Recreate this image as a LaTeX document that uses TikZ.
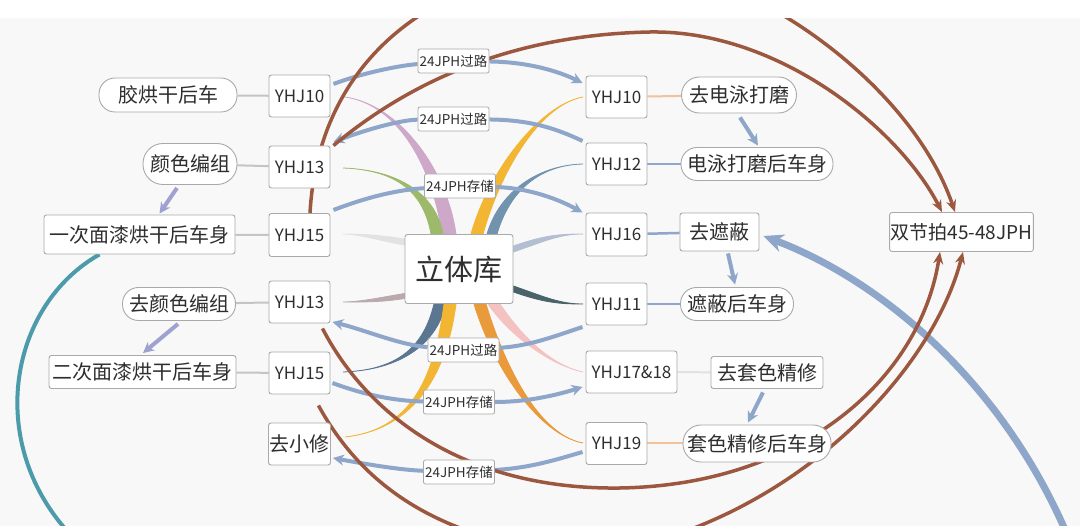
\documentclass[tikz,border=0pt]{standalone}
\usepackage{fontspec}
\setmainfont{Noto Sans CJK SC}
\usetikzlibrary{calc,arrows.meta}
\pgfdeclarelayer{base}\pgfdeclarelayer{links}\pgfdeclarelayer{topband}
\pgfsetlayers{base,links,main,topband}
\definecolor{bgc}{HTML}{F8F8F8}
\definecolor{bd}{HTML}{A9A9A9}
\definecolor{tx}{HTML}{2E2E2E}
\definecolor{brn}{HTML}{9C573F}
\definecolor{blu}{HTML}{8DA6C9}
\definecolor{pur}{HTML}{9FA2D1}
\definecolor{tea}{HTML}{4C9BAA}
\definecolor{cpink}{HTML}{CDA8C8}
\definecolor{cgreen}{HTML}{9DB96A}
\definecolor{cyel}{HTML}{F2B632}
\definecolor{csteel}{HTML}{7193AE}
\definecolor{clbg}{HTML}{B4BED3}
\definecolor{cdteal}{HTML}{4A626A}
\definecolor{clpink}{HTML}{F4C2C0}
\definecolor{corange}{HTML}{E99A3A}
\definecolor{cslate}{HTML}{5A7691}
\definecolor{clgrey}{HTML}{E2E2E2}
\definecolor{cmauve}{HTML}{BBAAAD}
\definecolor{cgl}{HTML}{C4C4C4}
\definecolor{cor}{HTML}{F2C29A}
\tikzset{
  ybox/.style={draw=bd, fill=white, line width=0.9pt, rounded corners=2.5pt, minimum width=61pt, minimum height=42pt, inner sep=1pt, text=tx, font=\fontsize{17}{20}\selectfont},
  pill/.style={draw=bd, fill=white, line width=0.9pt, rounded corners=16pt, minimum height=34pt, inner sep=1pt, text=tx, font=\fontsize{20}{24}\selectfont},
  cbox/.style={draw=bd, fill=white, line width=0.9pt, rounded corners=2.5pt, inner sep=1pt, text=tx, font=\fontsize{20}{24}\selectfont},
  lab/.style={draw=bd, fill=white, line width=0.8pt, rounded corners=2pt, minimum width=71pt, minimum height=24pt, inner sep=1pt, text=tx, font=\fontsize{13.5}{15}\selectfont},
  glink/.style={draw=cgl, line width=2pt},
  blink/.style={draw=blu, line width=4pt},
  barrow/.style={draw=blu, line width=4pt, -{Stealth[length=11pt,width=11pt]}},
  brarrow/.style={draw=brn, line width=3.5pt, -{Stealth[length=12pt,width=10pt]}},
}
\newcommand\brch[6]{\filldraw[#1, line width=0.8pt] ($#2+#6$) .. controls ($#3+#6$) and #4 .. #5 .. controls #4 and ($#3-#6$) .. ($#2-#6$) -- cycle;}
\begin{document}
\begin{tikzpicture}[x=1pt,y=-1pt]
\useasboundingbox (0,0) rectangle (1080,526);
\begin{pgfonlayer}{base}
\fill[bgc] (0,0) rectangle (1080,526);
\end{pgfonlayer}
% left column
\node[pill, minimum width=138pt] (p1) at (168,95) {胶烘干后车};
\node[ybox] (yl10) at (299.5,96) {YHJ10};
\node[pill, minimum width=94pt, minimum height=41pt, rounded corners=20pt] (p2) at (190,164) {颜色编组};
\node[ybox] (yl13) at (299.5,167) {YHJ13};
\node[cbox, minimum width=191pt, minimum height=39pt] (b1) at (139.5,234.5) {一次面漆烘干后车身};
\node[ybox, minimum height=43pt] (yl15) at (299.5,235) {YHJ15};
\node[pill, minimum width=113pt, minimum height=33pt] (p3) at (179,304) {去颜色编组};
\node[ybox] (yl13b) at (299.5,302) {YHJ13};
\node[cbox, minimum width=187pt, minimum height=33pt] (b2) at (142.5,372) {二次面漆烘干后车身};
\node[ybox] (yl15b) at (299.5,373) {YHJ15};
\node[cbox, minimum width=61pt, minimum height=42pt] (xx) at (299.5,444) {去小修};
% centre
\node[cbox, minimum width=108pt, minimum height=69pt, font=\fontsize{29}{34}\selectfont] (lk) at (459,269) {立体库};
% right column
\node[ybox] (yr10) at (616.5,97) {YHJ10};
\node[pill, minimum width=115pt, minimum height=36pt, rounded corners=18pt] (p4) at (739,95) {去电泳打磨};
\node[ybox] (yr12) at (616.5,164) {YHJ12};
\node[pill, minimum width=152pt, minimum height=33pt] (p5) at (757,164) {电泳打磨后车身};
\node[ybox, minimum height=43pt] (yr16) at (616.5,234.5) {YHJ16};
\node[cbox, minimum width=79pt, minimum height=38pt] (b3) at (719.5,232) {去遮蔽};
\node[ybox] (yr11) at (616.5,304) {YHJ11};
\node[pill, minimum width=113pt, minimum height=33pt] (p6) at (737,304) {遮蔽后车身};
\node[ybox, minimum width=91pt] (yr17) at (631.5,372) {YHJ17\&18};
\node[cbox, minimum width=112pt, minimum height=32pt] (b4) at (767,372.5) {去套色精修};
\node[ybox] (yr19) at (616.5,443.5) {YHJ19};
\node[pill, minimum width=148pt, minimum height=37pt, rounded corners=18pt] (p7) at (757,443.5) {套色精修后车身};
\node[cbox, minimum width=141pt, minimum height=39pt, font=\fontsize{19}{22}\selectfont] (dj) at (961.5,232) {双节拍45-48JPH};
% labels
\node[lab] (l1) at (453.5,61) {24JPH过路};
\node[lab] (l2) at (453.5,119) {24JPH过路};
\node[lab] (l3) at (460,186) {24JPH存储};
\node[lab] (l4) at (463.5,350) {24JPH过路};
\node[lab] (l5) at (459,402) {24JPH存储};
\node[lab] (l6) at (459,472) {24JPH存储};

\begin{pgfonlayer}{links}
% teal arc
\draw[tea, line width=4pt] ($(b1.south)+(-40,0)$) .. controls (10,305) and (-15,440) .. (68,532);
% plain links
\draw[glink] (p1) -- (yl10);
\draw[glink] (p2) -- (yl13);
\draw[glink] (b1) -- (yl15);
\draw[glink] (p3) -- (yl13b);
\draw[glink] (b2) -- (yl15b);
\draw[cor, line width=2pt] (yr10) -- (p4);
\draw[blu, line width=2.5pt] (yr12) -- (p5);
\draw[blu, line width=2.5pt] (yr16) -- (b3);
\draw[blu, line width=2.5pt] (yr11) -- (p6);
\draw[clgrey, line width=2pt] (yr17) -- (b4);
\draw[cor, line width=2pt] (yr19) -- (p7);
% tapered branches from the store
\brch{cpink}{($(lk.north)+(-10,0)$)}{(440,170)}{(400,105)}{(345,97)}{(7,0)}
\brch{cgreen}{($(lk.north)+(-22,0)$)}{(430,195)}{(400,170)}{(343,168)}{(6,0)}
\brch{cyel}{($(lk.north)+(18,0)$)}{(495,170)}{(540,105)}{(583,97)}{(6,0)}
\brch{csteel}{($(lk.north)+(33,0)$)}{(505,190)}{(540,165)}{(583,164)}{(5,0)}
\brch{clbg}{($(lk.east)+(0,-20)$)}{(545,238)}{(560,234)}{(583,234)}{(0,3)}
\brch{cdteal}{($(lk.east)+(0,20)$)}{(545,300)}{(560,304)}{(583,304)}{(0,3)}
\brch{clpink}{($(lk.south)+(35,0)$)}{(515,335)}{(550,365)}{(583,372)}{(6,0)}
\brch{corange}{($(lk.south)+(21,0)$)}{(500,370)}{(540,435)}{(583,443)}{(6,0)}
\brch{cslate}{($(lk.south)+(-19,0)$)}{(430,345)}{(400,370)}{(343,372)}{(6,0)}
\brch{cyel}{($(lk.south)+(-9,0)$)}{(440,380)}{(410,430)}{(345,437)}{(6,0)}
\brch{clgrey}{($(lk.west)+(0,-27)$)}{(380,238)}{(360,234)}{(343,234)}{(0,3)}
\brch{cmauve}{($(lk.west)+(0,27)$)}{(380,300)}{(360,302)}{(343,302)}{(0,2.5)}
% blue transfer connectors
\draw[blink] ($(yl10.east)+(3,-12)$) .. controls (360,74) and (395,66) .. (l1);
\draw[barrow] (l1) .. controls (530,62) and (560,72) .. ($(yr10.west)+(-3,-14)$);
\draw[blink] ($(yr12.west)+(-3,-23)$) .. controls (555,128) and (530,120) .. (l2);
\draw[barrow] (l2) .. controls (400,120) and (365,130) .. ($(yl13.east)+(3,-25)$);
\draw[blink] ($(yl15.east)+(3,-25)$) .. controls (365,198) and (395,190) .. (l3);
\draw[barrow] (l3) .. controls (530,188) and (560,200) .. ($(yr16.west)+(-3,-22)$);
\draw[blink] ($(yr11.west)+(-3,23)$) .. controls (555,336) and (530,346) .. (l4);
\draw[barrow] (l4) .. controls (400,345) and (365,330) .. ($(yl13b.east)+(2,20)$);
\draw[blink] ($(yl15b.east)+(2,10)$) .. controls (365,395) and (395,401) .. (l5);
\draw[barrow] (l5) .. controls (530,402) and (560,394) .. ($(yr17.west)+(-3,15)$);
\draw[blink] ($(yr19.west)+(-3,8.5)$) .. controls (555,460) and (530,468) .. (l6);
\draw[barrow] (l6) .. controls (400,470) and (365,464) .. ($(xx.east)+(2,14)$);
% small step arrows
\draw[pur, line width=4pt, -{Stealth[length=11pt,width=11pt]}] ($(p2.south)+(-13,3)$) -- ($(b1.north)+(20,-1)$);
\draw[pur, line width=4pt, -{Stealth[length=11pt,width=11pt]}] ($(p3.south)+(-1,3)$) -- ($(b2.north)+(0.5,-2)$);
\draw[blu, line width=4pt, -{Stealth[length=11pt,width=11pt]}] ($(p4.south)+(1,4)$) -- ($(p5.north)+(1,-1.5)$);
\draw[blu, line width=4pt, -{Stealth[length=11pt,width=11pt]}] ($(b3.south)+(8.5,2)$) -- ($(p6.north)+(-2,-2.5)$);
\draw[blu, line width=4pt, -{Stealth[length=11pt,width=11pt]}] ($(b4.south)+(-4,3.5)$) -- ($(p7.north)+(-9,-2)$);
% big return arrow
\draw[blu, line width=7pt, -{Stealth[length=20pt,width=18pt]}] (1066,532) .. controls (1000,380) and (880,280) .. ($(b3.east)+(4,4)$);
% brown double-takt arrows
\draw[brarrow] ($(yl15.north)+(10.5,0)$) .. controls (318,70) and (420,-30) .. (610,-40) .. controls (740,-40) and (910,80) .. ($(dj.north)+(-6.5,0)$);
\draw[brarrow] ($(yl13.north east)+(3,0)$) .. controls (400,90) and (500,35) .. (650,32) .. controls (780,30) and (900,130) .. ($(dj.north)+(-19.5,0)$);
\draw[brarrow] ($(yl13b.south east)+(-8,5)$) .. controls (370,420) and (470,490) .. (620,488) .. controls (800,485) and (920,380) .. ($(dj.south)+(-21.5,0)$);
\draw[brarrow] ($(yl15b.south east)+(-12,11)$) .. controls (370,500) and (460,545) .. (590,555) .. controls (780,530) and (930,380) .. ($(dj.south)+(1.5,0)$);
\end{pgfonlayer}
\begin{pgfonlayer}{topband}
\fill[white] (0,0) rectangle (1080,18);
\end{pgfonlayer}
\end{tikzpicture}
\end{document}
